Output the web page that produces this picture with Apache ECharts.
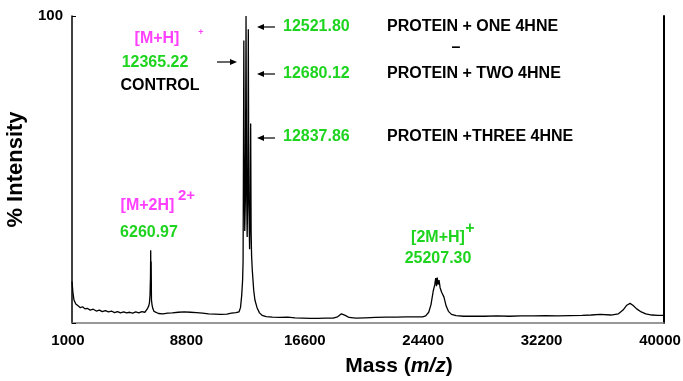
<!DOCTYPE html>
<html>
<head>
<meta charset="utf-8">
<script src="https://cdn.jsdelivr.net/npm/echarts@6/dist/echarts.min.js"></script>
<style>html,body{margin:0;padding:0;background:#fff;}#c{width:683px;height:381px;}</style>
</head>
<body>
<div id="c"></div>
<script>
// Mass (m/z) values
var masses = [
  1000,1060,1130,1250,1400,1550,1700,1850,2000,2200,2400,2600,2800,3000,3200,3400,3600,3800,4000,4200,
  4400,4600,4800,5000,5200,5400,5600,5800,5950,6050,6100,6140,6170,6185,6200,6215,6235,6270,6320,6400,
  6500,6700,7000,7300,7600,8000,8400,8800,9200,9600,10000,10400,10800,11200,11500,11800,12000,12100,12180,12240,
  12270,12300,12320,12340,12380,12420,12465,12500,12540,12580,12615,12650,12700,12730,12770,12800,12830,12880,12970,13050,
  13190,13350,13520,13800,14200,14700,15200,15700,16200,16700,17200,17700,18200,18500,18750,18850,19000,19250,19700,20300,
  21000,21700,22400,23000,23500,24100,24300,24500,24650,24800,24900,24960,25010,25060,25120,25180,25250,25350,25500,25650,
  25800,26000,26300,26800,27500,28200,29000,29800,30600,31400,32200,33000,33800,34600,35200,35800,36500,37000,37300,37550,
  37760,37950,38200,38500,38800,39200,39600,40000
];
// % Intensity at each mass
var intensity = [
  13.5,10,7.5,6.2,5.6,5.0,5.3,4.6,4.8,4.2,4.5,3.9,4.2,3.7,4.0,3.6,3.9,3.4,3.7,3.3,
  3.6,3.3,3.5,3.2,3.6,3.3,3.7,3.5,4.5,5.5,6.5,9,15,23.7,12,20,7.5,6,4.8,3.8,
  3.3,3.1,3.0,3.2,3.3,3.5,3.6,3.5,3.4,3.2,3.0,2.9,2.8,2.9,3.2,3.4,3.6,5,9,14,
  20,60,92,55,30,40,100,45,28,45,95.7,40,24,35,65,30,22,17,10.7,7.5,
  5,3.3,2.5,2.1,1.9,1.8,1.9,1.7,1.6,1.5,1.5,1.6,1.6,2.0,3.0,3.2,2.5,1.8,1.6,1.7,
  1.8,1.9,1.9,2.0,2.0,2.0,2.3,3.5,6,10.5,12.5,14.6,12,14.8,12.5,14,11.5,10,8.5,5.5,
  3.8,2.8,2.4,2.2,2.2,2.2,2.3,2.2,2.3,2.3,2.4,2.3,2.4,2.5,2.6,2.8,2.6,3.0,4.2,5.8,
  6.4,5.8,4.6,3.6,3.0,2.6,2.5,2.5
];
var xTicks = [1000, 8800, 16600, 24400, 32200, 40000];
var yTicks = [0, 100];

var data = masses.map(function (m, i) { return [m, intensity[i]]; });

var GREEN = '#1ed41e', PINK = '#ff40ff', FONT = 'Liberation Sans, Arial, sans-serif';
function txt(t, x, y, color, size, align) {
  return { type: 'text', z: 100, style: { text: t, x: x, y: y, fill: color,
    font: 'bold ' + size + 'px ' + FONT, textAlign: align || 'center', textVerticalAlign: 'middle' } };
}
function arrow(x1, x2, y) {
  var dir = x2 > x1 ? 1 : -1;
  return { type: 'group', z: 100, children: [
    { type: 'line', shape: { x1: x1, y1: y, x2: x2 - dir * 5, y2: y }, style: { stroke: '#000', lineWidth: 1.2 } },
    { type: 'polygon', shape: { points: [[x2, y], [x2 - dir * 7, y - 3], [x2 - dir * 7, y + 3]] }, style: { fill: '#000' } }
  ] };
}

var chart = echarts.init(document.getElementById('c'));
chart.setOption({
  animation: false,
  backgroundColor: '#fff',
  grid: { left: 72, right: 19, top: 16, bottom: 58, containLabel: false, outerBoundsMode: 'none' },
  xAxis: {
    type: 'value', min: xTicks[0], max: xTicks[xTicks.length - 1], interval: xTicks[1] - xTicks[0],
    axisLine: { show: true, lineStyle: { color: '#777', width: 1.5 } },
    axisTick: { show: false }, splitLine: { show: false },
    axisLabel: { color: '#000', fontWeight: 'bold', fontSize: 15, fontFamily: FONT, margin: 10,
      padding: [0, 8, 0, 0], hideOverlap: false,
      formatter: function (v) { return String(v); } },
    name: '{a|Mass (}{b|m/z}{a|)}', nameLocation: 'middle', nameGap: 33,
    nameTextStyle: { padding: [0, 0, 0, 62], rich: {
      a: { fontSize: 21, fontWeight: 'bold', fontFamily: FONT, color: '#000' },
      b: { fontSize: 21, fontWeight: 'bold', fontStyle: 'italic', fontFamily: FONT, color: '#000' } } }
  },
  yAxis: [{
    type: 'value', min: yTicks[0], max: yTicks[1], interval: yTicks[1] - yTicks[0],
    axisLine: { show: true, lineStyle: { color: '#000', width: 1.5 } },
    axisTick: { show: true, inside: true, length: 4, lineStyle: { color: '#000' } },
    splitLine: { show: false },
    axisLabel: { color: '#000', fontWeight: 'bold', fontSize: 15, fontFamily: FONT, margin: 9,
      formatter: function (v) { return v === yTicks[1] ? String(v) : ''; } },
    name: '% Intensity', nameLocation: 'middle', nameGap: 38, nameRotate: 90,
    nameTextStyle: { fontSize: 22, fontWeight: 'bold', fontFamily: FONT, color: '#000' }
  }, {
    type: 'value', position: 'right', min: yTicks[0], max: yTicks[1],
    axisLine: { show: true, lineStyle: { color: '#000', width: 2 } },
    axisTick: { show: false }, axisLabel: { show: false }, splitLine: { show: false }
  }],
  series: [{
    type: 'line', data: data, showSymbol: false, symbol: 'none', sampling: false,
    lineStyle: { color: '#000', width: 1.3 }, silent: true
  }],
  graphic: [
    txt('[M+H]', 157, 39, PINK, 16),
    txt('+', 201, 33, PINK, 9),
    txt('12365.22', 155, 63, GREEN, 16),
    txt('CONTROL', 160, 86, '#000', 16),
    arrow(217, 237, 62),
    arrow(275, 257, 27),
    arrow(275, 257, 74),
    arrow(275, 257, 138),
    txt('12521.80', 283, 27, GREEN, 16, 'left'),
    txt('12680.12', 283, 74, GREEN, 16, 'left'),
    txt('12837.86', 283, 137, GREEN, 16, 'left'),
    txt('PROTEIN + ONE 4HNE', 387, 27, '#000', 16, 'left'),
    txt('\u2013', 456, 48, '#000', 16),
    txt('PROTEIN + TWO 4HNE', 387, 74, '#000', 16, 'left'),
    txt('PROTEIN +THREE 4HNE', 387, 137, '#000', 16, 'left'),
    txt('[M+2H]', 147.5, 206, PINK, 16),
    txt('2+', 186.5, 196, PINK, 15),
    txt('6260.97', 149, 233, GREEN, 16),
    txt('[2M+H]', 438, 238, GREEN, 16),
    txt('+', 470, 229, GREEN, 16),
    txt('25207.30', 438, 259, GREEN, 16)
  ]
});
</script>
</body>
</html>
